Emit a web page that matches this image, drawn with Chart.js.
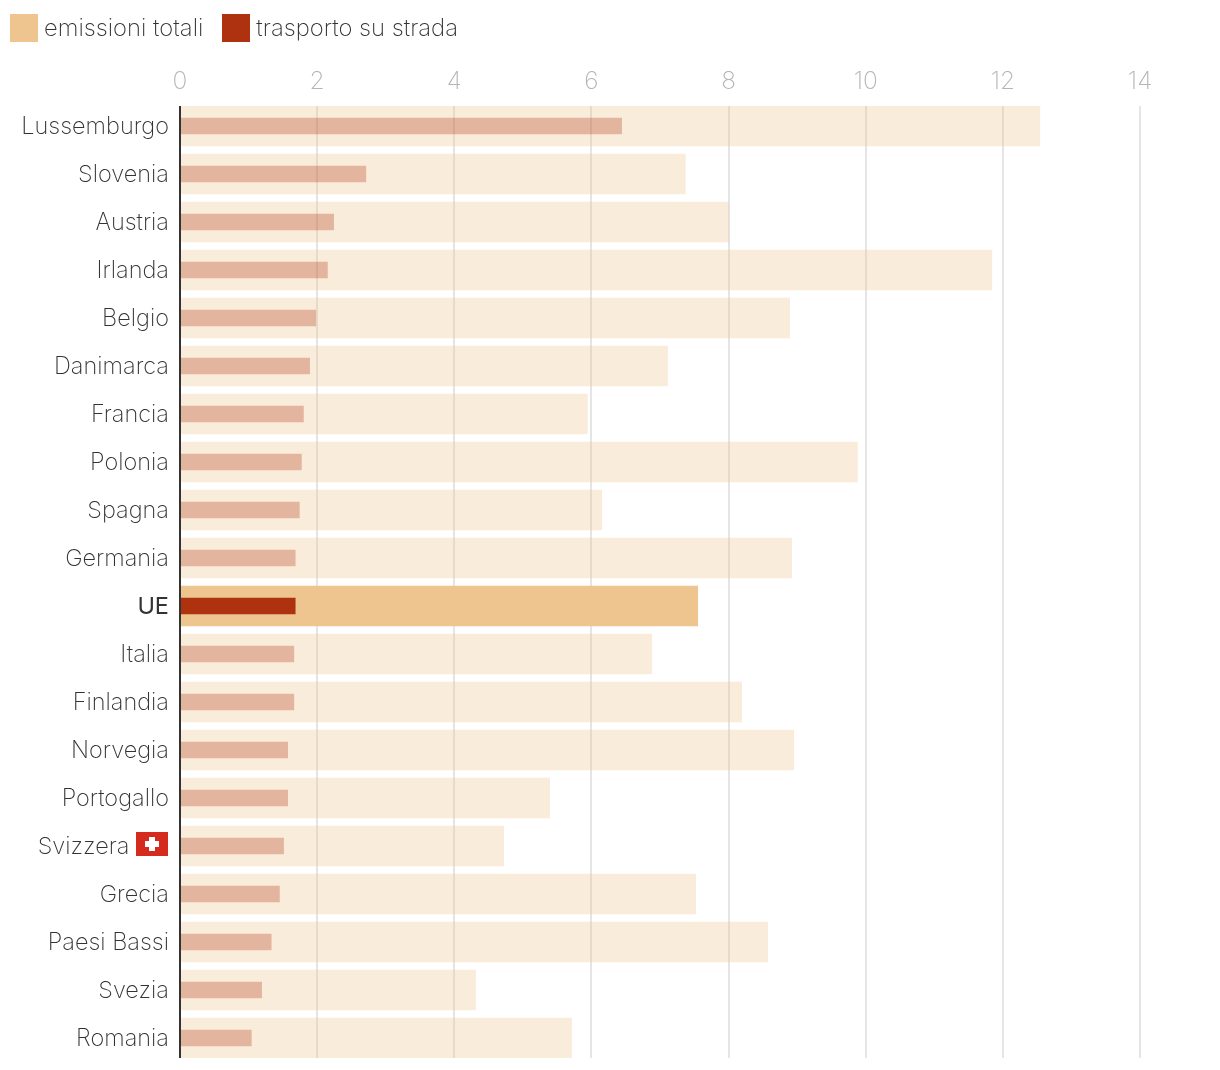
<!DOCTYPE html>
<html lang="it">
<head>
<meta charset="utf-8">
<title>Emissioni</title>
<script src="https://cdn.jsdelivr.net/npm/chart.js@4"></script>
<style>
  html, body { margin: 0; background: #fff; }
  #wrap { position: relative; width: 1220px; height: 1070px; overflow: hidden; }
  .legend { position: absolute; top: 14px; left: 10px; display: flex; font: 200 23.8px/26px Inter, sans-serif; color: #333; }
  .legend span { display: flex; align-items: center; height: 28px; margin-right: 19px; }
  .legend i { width: 28px; height: 28px; margin-right: 6px; }
</style>
</head>
<body>
<div id="wrap">
  <div class="legend">
    <span><i style="background:#eec48f"></i>emissioni totali</span>
    <span><i style="background:#ae3110"></i>trasporto su strada</span>
  </div>
  <canvas id="chart" width="1220" height="1070"></canvas>
</div>
<script>
const paesi = ['Lussemburgo', 'Slovenia', 'Austria', 'Irlanda', 'Belgio', 'Danimarca', 'Francia', 'Polonia', 'Spagna', 'Germania', 'UE', 'Italia', 'Finlandia', 'Norvegia', 'Portogallo', 'Svizzera', 'Grecia', 'Paesi Bassi', 'Svezia', 'Romania'];
const totali = [12.54, 7.37, 8.0, 11.84, 8.89, 7.11, 5.94, 9.88, 6.15, 8.92, 7.55, 6.88, 8.19, 8.95, 5.39, 4.72, 7.52, 8.57, 4.31, 5.71];
const strada = [6.44, 2.71, 2.24, 2.15, 1.98, 1.89, 1.80, 1.77, 1.74, 1.68, 1.68, 1.66, 1.66, 1.57, 1.57, 1.51, 1.45, 1.33, 1.19, 1.04];

const isUE = i => paesi[i] === 'UE';
const FONT = 'Inter, sans-serif';

// Bandiera svizzera accanto all'etichetta, e griglia accorciata di 4px sopra e sotto
const extrasPlugin = {
  id: 'extras',
  afterDraw(chart) {
    const y = chart.scales.y.getPixelForValue(paesi.indexOf('Svizzera'));
    const a = chart.chartArea;
    const c = chart.ctx;
    c.save();
    c.fillStyle = '#d52b1e';
    c.fillRect(136, y - 14, 32, 24);
    c.fillStyle = '#fff';
    c.fillRect(149, y - 9, 6, 14);
    c.fillRect(145, y - 5, 14, 6);
    c.fillRect(172, a.top - 1, 1048, 5);
    c.fillRect(172, a.bottom - 4, 1048, 5);
    c.restore();
  }
};

new Chart(document.getElementById('chart'), {
  type: 'bar',
  data: {
    labels: paesi,
    datasets: [
      {
        label: 'trasporto su strada', data: strada, order: 1, barThickness: 16,
        backgroundColor: ctx => isUE(ctx.dataIndex) ? '#ae3110' : 'rgba(174,49,16,0.3)'
      },
      {
        label: 'emissioni totali', data: totali, order: 2, barThickness: 40,
        backgroundColor: ctx => isUE(ctx.dataIndex) ? '#eec48f' : 'rgba(238,196,143,0.32)'
      }
    ]
  },
  options: {
    indexAxis: 'y',
    responsive: false,
    animation: false,
    layout: { padding: { right: 80, bottom: 8 } },
    plugins: { legend: { display: false }, tooltip: { enabled: false } },
    datasets: { bar: { grouped: false, borderWidth: 0 } },
    scales: {
      x: {
        position: 'top', min: 0, max: 14,
        afterFit: s => { s.height = 102; },
        border: { display: false },
        grid: { drawTicks: false, lineWidth: 2, color: ctx => ctx.tick && ctx.tick.value === 0 ? 'rgba(0,0,0,0)' : '#e5e5e5' },
        ticks: { stepSize: 2, padding: 6, maxRotation: 0, color: '#b5b5b5', font: { family: FONT, size: 24.5, weight: 200 } }
      },
      y: {
        afterFit: s => { s.width = 180; s.paddingTop = 0; s.paddingBottom = 0; },
        border: { display: true, color: '#333', width: 2, z: 1 },
        grid: { display: false, drawTicks: false },
        ticks: {
          autoSkip: false, padding: 11, labelOffset: 1,
          color: '#333',
          font: ctx => ({ family: FONT, size: 23.5, weight: isUE(ctx.index) ? 400 : 200 }),
          callback(v, i) { return paesi[i] === 'Svizzera' ? paesi[i] + '\u2003\u2002\u2009' : paesi[i]; }
        }
      }
    }
  },
  plugins: [extrasPlugin]
});
</script>
</body>
</html>
